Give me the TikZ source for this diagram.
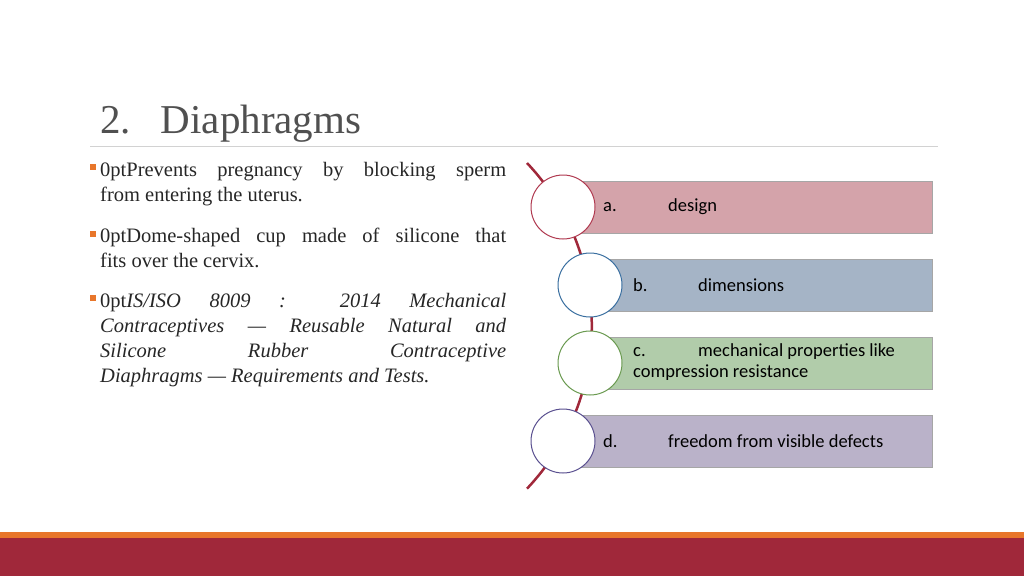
\documentclass[tikz,border=0pt]{standalone}
\usepackage{fontspec}
\setmainfont{Liberation Serif}
\newfontfamily\carlito{Carlito}
\usetikzlibrary{positioning}
\definecolor{slideRed}{HTML}{A0283A}
\definecolor{slideOrange}{HTML}{E8762B}
\definecolor{titleGray}{HTML}{505050}
\definecolor{fillA}{HTML}{D4A3AA}
\definecolor{fillB}{HTML}{A5B4C6}
\definecolor{fillC}{HTML}{B1CCAA}
\definecolor{fillD}{HTML}{BAB2C9}
\definecolor{ringA}{HTML}{B03A50}
\definecolor{ringB}{HTML}{3A6FA0}
\definecolor{ringC}{HTML}{6A9A50}
\definecolor{ringD}{HTML}{5A5090}
\newcommand{\tabbed}[2]{\makebox[65pt][l]{#1}#2}
\tikzset{
  band/.style={draw=gray!70, minimum height=52, anchor=west, inner sep=0pt},
  ring/.style={circle, draw, fill=white, line width=1, minimum size=64, inner sep=0pt},
  item/.style={font=\carlito\fontsize{18.5}{21}\selectfont, anchor=west, align=left, inner sep=0pt},
  bulletbox/.style={fill=slideOrange, minimum size=6, inner sep=0pt},
  bullettext/.style={text width=406, align=justify, anchor=north west, inner sep=0pt,
    font=\fontsize{20.5}{25}\selectfont\hyphenpenalty=10000\exhyphenpenalty=10000, text=black!85}
}
\begin{document}
\begin{tikzpicture}[x=1pt,y=-1pt]
  \useasboundingbox (0,0) rectangle (1024,576);
  % title
  \node[anchor=base west, inner sep=0pt, text=titleGray, font=\fontsize{41}{44}\selectfont]
    (title) at (100,133) {2.\hspace{30pt}Diaphragms};
  \draw[gray!35] (90,146) -- (938,146);
  % bullets
  \node[bullettext] (p1) at (100,162) {Prevents pregnancy by blocking sperm\linebreak from entering the uterus.};
  \node[bullettext] (p2) at (100,228) {Dome-shaped cup made of silicone that\linebreak fits over the cervix.};
  \node[bullettext] (p3) at (100,293) {\itshape IS/ISO 8009 : 2014 Mechanical\linebreak Contraceptives --- Reusable Natural and\linebreak Silicone Rubber Contraceptive\linebreak Diaphragms --- Requirements and Tests.};
  \node[bulletbox] (b1) at (93,167) {};
  \node[bulletbox] (b2) at (93,234) {};
  \node[bulletbox] (b3) at (93,298) {};
  % curve
  \draw[slideRed, line width=2.5] (527,163) arc[start angle=-223.4, end angle=-136.6, radius=-237];
  % bands
  \node[band, fill=fillA, minimum width=354] (bandA) at (578,207) {};
  \node[band, fill=fillB, minimum width=342] (bandB) at (590,285) {};
  \node[band, fill=fillC, minimum width=342] (bandC) at (590,363) {};
  \node[band, fill=fillD, minimum width=354] (bandD) at (578,441) {};
  \node[ring, draw=ringA] (ringA) at (563,207) {};
  \node[ring, draw=ringB] (ringB) at (590,285) {};
  \node[ring, draw=ringC] (ringC) at (590,363) {};
  \node[ring, draw=ringD] (ringD) at (563,441) {};
  \node[item] (txtA) at (603,207) {\tabbed{a.}{design}};
  \node[item] (txtB) at (633,285) {\tabbed{b.}{dimensions}};
  \node[item] (txtC) at (633,362) {\tabbed{c.}{mechanical properties like}\\compression resistance};
  \node[item] (txtD) at (603,441) {\tabbed{d.}{freedom from visible defects}};
  % footer
  \fill[slideOrange] (0,532) rectangle (1024,538);
  \fill[slideRed] (0,538) rectangle (1024,576);
\end{tikzpicture}
\end{document}
